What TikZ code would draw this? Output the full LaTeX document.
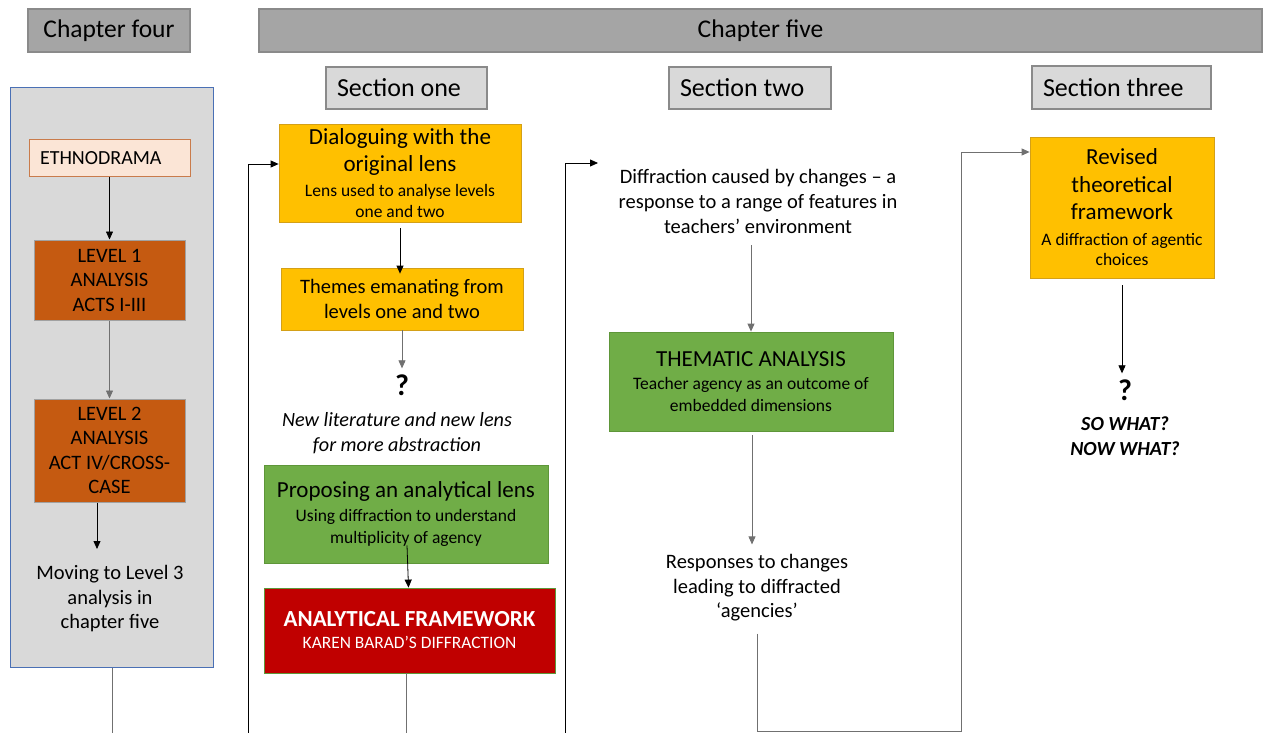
\documentclass[tikz,border=0pt]{standalone}
\usepackage{fontspec}
\setmainfont{Carlito}
\usepackage{tikz}
\usetikzlibrary{positioning, arrows.meta}

\definecolor{chapfill}{HTML}{A5A5A5}
\definecolor{chapline}{HTML}{8A8A8A}
\definecolor{secfill}{HTML}{D9D9D9}
\definecolor{panelline}{HTML}{4A70B5}
\definecolor{ethnofill}{HTML}{FBE5D6}
\definecolor{ethnoline}{HTML}{C97B4B}
\definecolor{rust}{HTML}{C55A11}
\definecolor{gold}{HTML}{FFC000}
\definecolor{goldline}{HTML}{D4A017}
\definecolor{leaf}{HTML}{70AD47}
\definecolor{leafline}{HTML}{5E9639}
\definecolor{crimson}{HTML}{C00000}
\definecolor{linegray}{HTML}{707070}

\newcommand{\fsz}[2]{\fontsize{#1}{#2}\selectfont}
\newcommand{\hd}{\fsz{23}{27.5}}
\newcommand{\sm}{\fsz{17.5}{21}}

\begin{document}
\begin{tikzpicture}[x=1pt, y=-1pt,
    chapbox/.style={rectangle, draw=chapline, fill=chapfill, line width=1.2pt, inner sep=0pt, font=\fsz{25.5}{30}},
    secbox/.style={rectangle, draw=chapline, fill=secfill, line width=1.2pt, inner xsep=11pt, inner ysep=0pt,
                   align=flush left, font=\fsz{26}{30}},
    panel/.style={rectangle, draw=panelline, fill=secfill, line width=1pt, inner sep=0pt},
    rustbox/.style={rectangle, draw=chapline!80, fill=rust, line width=1pt, inner sep=0pt, align=center, font=\fsz{20.5}{24.5}},
    goldbox/.style={rectangle, draw=goldline, fill=gold, line width=0.8pt, inner sep=0pt, align=center},
    leafbox/.style={rectangle, draw=leafline, fill=leaf, line width=0.8pt, inner sep=0pt, align=center},
    plain/.style={align=center, inner sep=0pt, font=\fsz{20.5}{24.5}},
    arrow/.style={line width=0.8pt, -{Triangle[length=8pt, width=7pt]}},
    link/.style={line width=1pt, draw=linegray}
]
\useasboundingbox (0,0) rectangle (1263,733);

% headers
\node[chapbox, minimum width=162pt, minimum height=43pt] (ch4) at (109,30.5) {Chapter four};
\node[chapbox, minimum width=1003pt, minimum height=43pt] (ch5) at (760.5,30.5) {Chapter five};
\node[secbox, minimum height=42pt, text width=139pt] (sec1) at (406.5,88) {Section one};
\node[secbox, minimum height=42pt, text width=140pt] (sec2) at (750,88) {Section two};
\node[secbox, minimum height=43pt, text width=157pt] (sec3) at (1121.5,87.5) {Section three};

% chapter four
\node[panel, minimum width=203pt, minimum height=579pt] (panel) at (111.5,377.5) {};
\node[rectangle, draw=ethnoline, fill=ethnofill, line width=1pt, minimum width=161pt, minimum height=36pt,
      inner xsep=11pt, inner ysep=0pt, text width=139pt, align=flush left, font=\fsz{20}{23}] (ethno) at (109.5,158) {ETHNODRAMA};
\node[rustbox, minimum width=151pt, minimum height=80pt] (lvl1) at (109.5,280) {LEVEL 1\\ANALYSIS\\ACTS I-III};
\node[rustbox, minimum width=151pt, minimum height=103pt] (lvl2) at (109.5,450.5) {LEVEL 2\\ANALYSIS\\ACT IV/CROSS-\\CASE};
\node[plain] (moving) at (110,599) {Moving to Level 3\\analysis in\\chapter five};
\coordinate (mvin) at (97,549);

\draw[arrow] (ethno) -- (lvl1);
\draw[arrow, draw=linegray] (lvl1) -- (lvl2);
\draw[arrow] (lvl2.south -| mvin) -- (mvin);

% section one
\node[goldbox, minimum width=242pt, minimum height=98pt, font=\hd] (dialog) at (400,173)
    {\hd Dialoguing with the\\\hd original lens\\[-2.5pt]\sm Lens used to analyse levels\\[-6.5pt]\sm one and two};
\node[goldbox, minimum width=242pt, minimum height=62pt, font=\fsz{20.5}{24.5}] (themes) at (402,299) {Themes emanating from\\levels one and two};
\node[font=\bfseries\fsz{30}{32}, inner sep=0pt] (q1) at (402,385) {?};
\node[plain, font=\itshape\fsz{20.2}{24.5}] (newlit) at (397,433) {New literature and new lens\\for more abstraction};
\node[leafbox, minimum width=284pt, minimum height=98pt, font=\hd] (propose) at (406,514)
    {\hd Proposing an analytical lens\\[-3.5pt]\sm Using diffraction to understand\\[-5.5pt]\sm multiplicity of agency};
\node[rectangle, draw=leafline, fill=crimson, line width=0.8pt, minimum width=291pt, minimum height=85pt,
      inner sep=0pt, align=center, text=white, font=\bfseries\fsz{23}{26}] (frame) at (409.5,630.5)
    {\bfseries\fsz{23}{26}ANALYTICAL FRAMEWORK\\[-4pt]\mdseries\fsz{17.4}{20}KAREN BARAD’S DIFFRACTION};

\draw[arrow] ([yshift=-6pt]dialog.south) -- ([yshift=-6pt]dialog.south |- themes.north);
\draw[arrow, draw=linegray] (themes.south) -- ([yshift=6pt]q1.north);
\draw[arrow] ([xshift=1pt, yshift=18pt]propose.south) -- ([xshift=-1pt]frame.north);

% section two
\node[plain, font=\fsz{20.5}{25}] (diffr) at (758,201) {Diffraction caused by changes – a\\response to a range of features in\\teachers’ environment};
\node[leafbox, minimum width=284pt, minimum height=99pt, font=\fsz{23}{26}] (thematic) at (751,381.5)
    {\fsz{23}{26}THEMATIC ANALYSIS\\[-3pt]\sm Teacher agency as an outcome of\\[-4pt]\sm embedded dimensions};
\node[plain] (resp) at (757,588) {Responses to changes\\leading to diffracted\\‘agencies’};
\coordinate (din) at (598,163);

\draw[arrow, draw=linegray] ([yshift=-12pt]diffr.south -| thematic.north) -- (thematic.north);
\draw[arrow, draw=linegray] ([xshift=1pt, yshift=-4pt]thematic.south) -- ([xshift=1pt, yshift=10pt]thematic.south |- resp.north);

% section three
\node[goldbox, minimum width=184pt, minimum height=141pt, font=\hd] (revised) at (1122,207.5)
    {\hd Revised\\\hd theoretical\\\hd framework\\[-1.5pt]\sm A diffraction of agentic\\[-7.5pt]\sm choices};
\node[font=\bfseries\fsz{30}{32}, inner sep=0pt] (q2) at (1125,390) {?};
\node[plain, font=\bfseries\itshape\fsz{20}{25}] (sowhat) at (1125,436.5) {SO WHAT?\\NOW WHAT?};

\draw[arrow] ([yshift=-7pt]revised.south) -- ([yshift=6pt]revised.south |- q2.north);

% links leaving the page
\coordinate (b1) at (112,733);
\coordinate (b2) at (248,733);
\coordinate (b3) at (406,733);
\coordinate (b4) at (565,733);
\coordinate (b5) at (961,731.5);

\draw[link] (panel.south -| b1) -- (b1);
\draw[link] (frame.south -| b3) -- (b3);
\draw[arrow] (b2) |- ([yshift=9pt]dialog.west);
\draw[arrow] (b4) |- (din);
\draw[arrow, draw=linegray] ([yshift=-12pt]resp.south) |- (b5) |- ([yshift=55.5pt]revised.west);

\end{tikzpicture}
\end{document}
